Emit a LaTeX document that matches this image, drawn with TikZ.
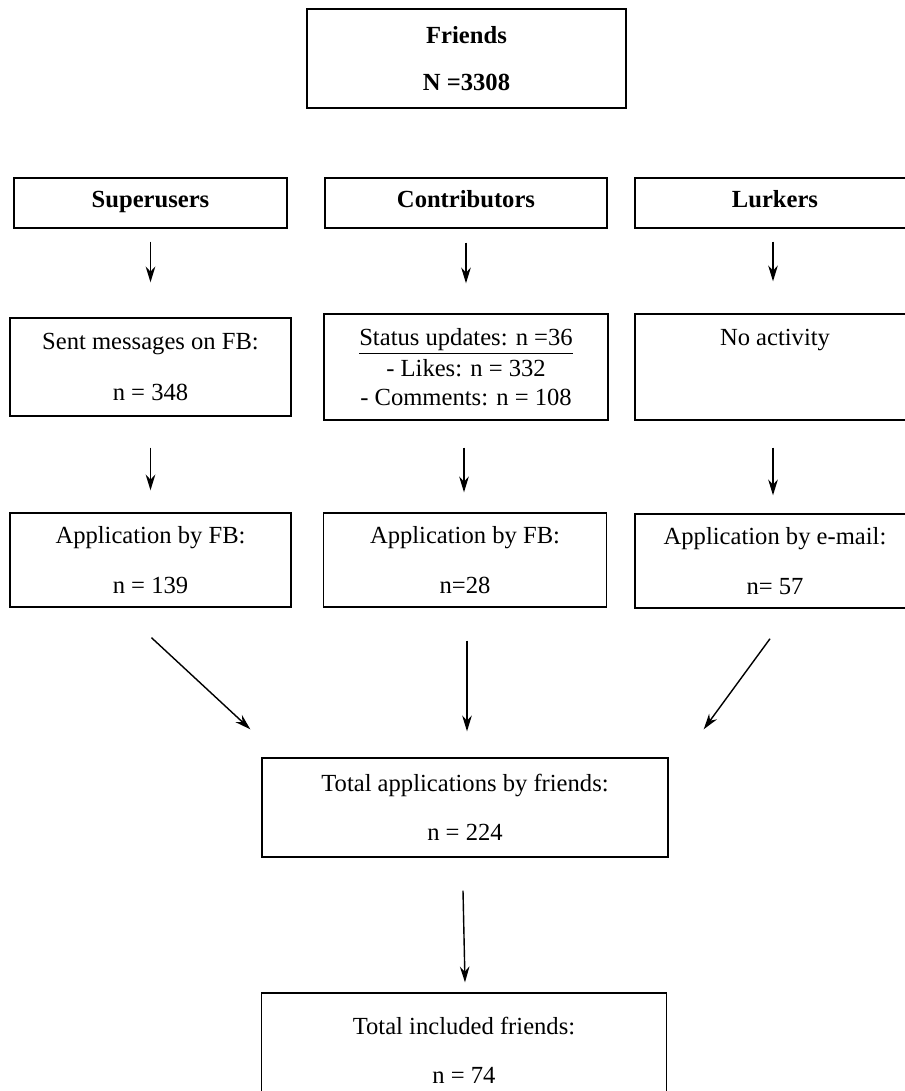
\documentclass[tikz,border=0pt]{standalone}
\usepackage{fontspec}
\setmainfont{Liberation Serif}
\usetikzlibrary{arrows.meta,calc}

\begin{document}
\begin{tikzpicture}[x=0.02cm,y=-0.02cm,>=Stealth,
  box/.style 2 args={draw,line width=0.8pt,inner sep=0pt,align=center,
    minimum width=#1*0.02cm,minimum height=#2*0.02cm,
    font=\fontsize{14}{16}\selectfont},
  head/.style={font=\fontsize{14}{16}\selectfont\bfseries},
  grp/.style={head,text height=0.7em,text depth=0.22em},
  flow/.style={->,line width=0.8pt,>={Stealth[length=9pt,width=5.5pt]}}]
\useasboundingbox (0,0) rectangle (905,1091);
\clip (0,0) rectangle (905,1091);
% ---- top ----
\node[box={319}{99},head] (friends) at (466.5,58.5) {Friends\\[11pt]N =3308};
% ---- row 1: groups ----
\node[box={273}{50},grp] (sup)  at (150.5,203) {Superusers};
\node[box={282}{50},grp] (con)  at (466,203)   {Contributors};
\node[box={280}{50},grp] (lurk) at (775,203)   {Lurkers};
% ---- row 2: activity ----
\node[box={281}{98}]  (supmsg)  at (150.5,367) {Sent messages on FB:\\[12.5pt]n = 348};
\node[box={284}{106}] (conact)  at (466,367)   {\raisebox{0pt}[\height][0pt]{\underline{Status updates: n =36}}\\[1.5pt]- Likes: n = 332\\[0.5pt]- Comments: n = 108};
\node[box={280}{106}] (lurkact) at (775,367)   {No activity\\[1.5pt]\mbox{}\\[0.5pt]\mbox{}};
% ---- row 3: applications ----
\node[box={281}{94}] (supapp)  at (150.5,560) {Application by FB:\\[12pt]n = 139};
\node[box={283}{94}] (conapp)  at (465,560)   {Application by FB:\\[12pt]n=28};
\node[box={280}{94}] (lurkapp) at (775,561)   {Application by e-mail:\\[12pt]n= 57};
% ---- totals ----
\node[box={406}{99}]  (total) at (465,807.5) {Total applications by friends:\\[12pt]n = 224};
\node[box={405}{114}] (incl)  at (464,1050)  {Total included friends:\\[12pt]n = 74};
% arrows
\draw[flow] ($(sup.south)+(0,13)$) -- ($(supmsg.north)+(0,-35)$);
\draw[flow] ($(con.south)+(0,14)$) -- ($(conact.north)+(0,-30)$);
\draw[flow] ($(lurk.south)+(-2,13)$) -- ($(lurkact.north)+(-2,-32)$);
\draw[flow] ($(supmsg.south)+(0,31)$) -- ($(supapp.north)+(0,-22)$);
\draw[flow] ($(conact.south)+(-2,27)$) -- ($(conapp.north)+(-1,-20)$);
\draw[flow] ($(lurkact.south)+(-2,27)$) -- ($(lurkapp.north)+(-2,-18)$);
\draw[flow] ($(supapp.south)+(1,30)$) -- ($(total.north west)+(-11,-28)$);
\draw[flow] ($(conapp.south)+(2,33)$) -- ($(total.north)+(2,-26)$);
\draw[flow] ($(lurkapp.south)+(-5,30)$) -- ($(total.north east)+(35,-28)$);
\draw[flow] ($(total.south)+(-2,33)$) -- ($(incl.north)+(1,-10)$);
\end{tikzpicture}
\end{document}
